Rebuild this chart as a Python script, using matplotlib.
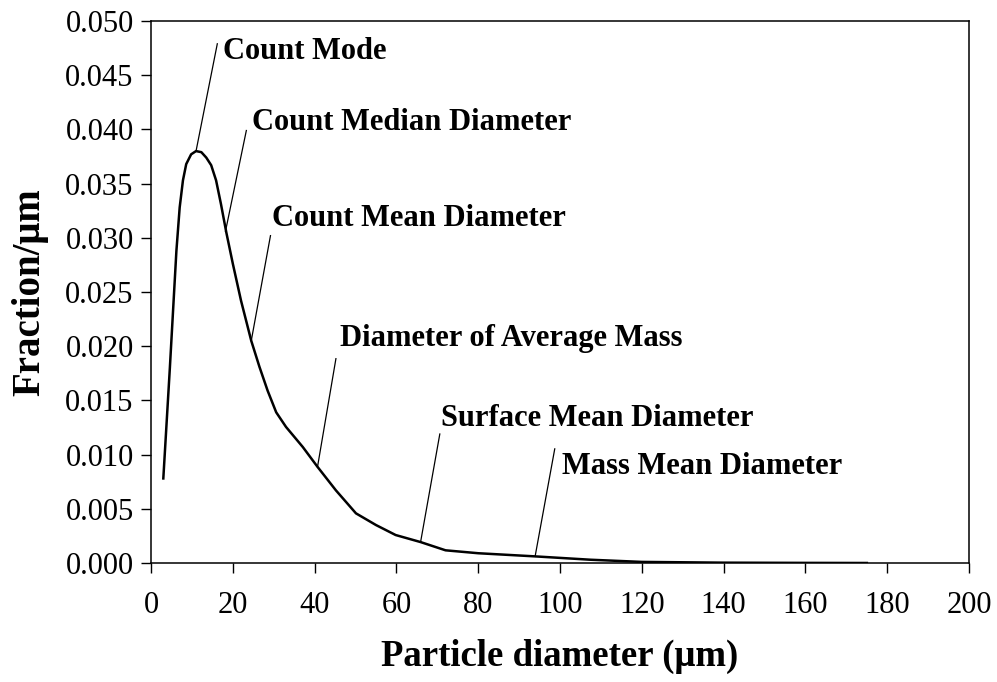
import matplotlib
matplotlib.use("Agg")
import matplotlib.pyplot as plt

plt.rcParams['font.family'] = ['Liberation Serif', 'DejaVu Serif']

# particle size distribution curve
diameter = [3.0, 4.6, 6.2, 7.0, 7.8, 8.6, 9.8, 11.0, 12.3, 13.5, 14.7, 15.9,
            17.1, 18.4, 20.0, 22.0, 24.5, 26.5, 28.5, 30.6, 33.0, 37.1, 40.7,
            45.2, 50.1, 55.0, 59.8, 65.9, 72.0, 80.0, 93.9, 107.5, 120.0,
            140.0, 160.0, 175.0]
fraction = [0.0078, 0.0180, 0.0288, 0.0328, 0.0353, 0.0368, 0.0377, 0.0380,
            0.0379, 0.0374, 0.0367, 0.0353, 0.0331, 0.0305, 0.0276, 0.0242,
            0.0205, 0.0181, 0.0159, 0.0139, 0.01255, 0.0107, 0.00887, 0.0067,
            0.00458, 0.0035, 0.00258, 0.00193, 0.00117, 0.0009, 0.00061,
            0.0003, 0.0001, 0.00003, 0.00001, 0.0]

# annotations: label, point on curve, top of leader line, text position
labels = ["Count Mode", "Count Median Diameter", "Count Mean Diameter",
          "Diameter of Average Mass", "Surface Mean Diameter", "Mass Mean Diameter"]
point_x = [11.0, 18.2, 24.5, 40.7, 65.9, 93.9]
point_y = [0.0380, 0.0306, 0.0205, 0.00887, 0.00193, 0.00061]
top_x = [16.2, 23.3, 29.2, 45.2, 70.6, 98.7]
top_y = [0.0479, 0.0399, 0.0302, 0.01885, 0.0119, 0.01053]
text_x = [17.5, 24.8, 29.6, 46.3, 70.9, 100.5]
text_y = [0.0472, 0.0406, 0.0318, 0.0207, 0.0133, 0.0089]

x_ticks = list(range(0, 201, 20))
y_ticks = [0.000, 0.005, 0.010, 0.015, 0.020, 0.025, 0.030, 0.035, 0.040, 0.045, 0.050]

fig = plt.figure(figsize=(9.97, 6.82), dpi=100)
ax = fig.add_axes([0.1515, 0.1745, 0.8205, 0.7947])

ax.plot(diameter, fraction, color='black', linewidth=1.8)

for i in range(len(labels)):
    ax.plot([point_x[i], top_x[i]], [point_y[i], top_y[i]], color='black', linewidth=0.9)
    ax.text(text_x[i], text_y[i], labels[i], fontsize=22, fontweight='bold',
            ha='left', va='center')

ax.set_xlim(0, 200)
ax.set_ylim(0, 0.05)
ax.set_xticks(x_ticks)
ax.set_yticks(y_ticks)
ax.set_yticklabels([f"{v:.3f}" for v in y_ticks])
ax.tick_params(axis='both', direction='out', length=7.5, width=1, labelsize=22)
ax.tick_params(axis='x', pad=13)
ax.tick_params(axis='y', pad=5)
for s in ax.spines.values():
    s.set_linewidth(1.1)

ax.set_xlabel("Particle diameter (\u03bcm)", fontsize=26.5, fontweight='bold', labelpad=13)
ax.set_ylabel("Fraction/\u03bcm", fontsize=28, fontweight='bold', labelpad=12)

fig.savefig("out.png", dpi=100)
